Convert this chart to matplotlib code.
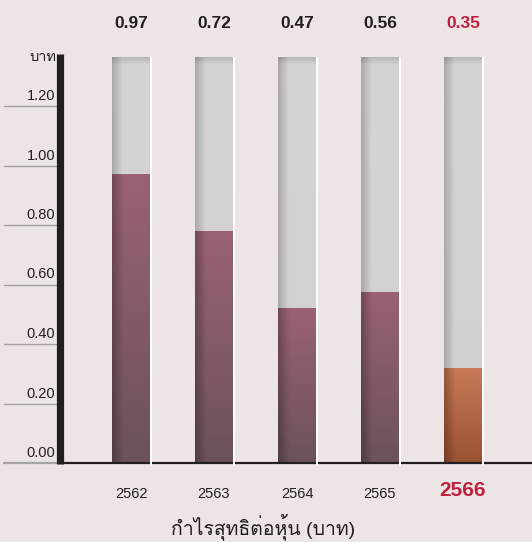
import numpy as np
import matplotlib
matplotlib.use('Agg')
import matplotlib.pyplot as plt
from matplotlib import font_manager
from matplotlib.ft2font import FT2Font
from matplotlib.colors import to_rgb
import matplotlib.transforms as mtransforms

# ข้อมูล
years = ['2562', '2563', '2564', '2565', '2566']
eps_labels = ['0.97', '0.72', '0.47', '0.56', '0.35']
bar_heights = [0.97, 0.78, 0.52, 0.575, 0.32]   # ความสูงแท่งตามภาพ
bg_height = 1.365
yticks = [0.0, 0.2, 0.4, 0.6, 0.8, 1.0, 1.2]

BG = '#ede4e6'
DARK = '#231f20'
RED = '#c0203f'


def find_thai_font():
    for f in font_manager.fontManager.ttflist:
        try:
            cmap = FT2Font(f.fname).get_charmap()
        except Exception:
            continue
        if ord('ก') in cmap and ord('ุ') in cmap:
            return f.name
    return None


thai = find_thai_font()
families = ['Liberation Sans', 'DejaVu Sans']
if thai:
    families = ['Liberation Sans', thai, 'DejaVu Sans']
plt.rcParams['font.family'] = families

W, H = 532, 542
fig = plt.figure(figsize=(W / 100, H / 100), dpi=100, facecolor=BG)
base_px = 463
top_px = 40
px_per_unit = 297.5
ax = fig.add_axes([60 / W, (H - base_px) / H, 472 / W, (base_px - top_px) / H])
ax.set_facecolor(BG)
step = 83.0
ax.set_xlim(-71 / step, (472 - 71) / step)
ax.set_ylim(0, (base_px - top_px) / px_per_unit)
for s in ax.spines.values():
    s.set_visible(False)
ax.set_xticks([])
ax.set_yticks([])

x = np.arange(len(years))
width = 38 / step


def gradient_fill(patch, top_col, bot_col, shade_left=0.72, shade_w=0.35, top_shade=0.0):
    ny, nx = 200, 60
    t = np.linspace(1, 0, ny)[:, None]           # 1 ด้านบน, 0 ด้านล่าง
    top = np.array(to_rgb(top_col))
    bot = np.array(to_rgb(bot_col))
    img = (bot + (top - bot) * t[..., None]) * np.ones((ny, nx, 3))
    u = np.linspace(0, 1, nx)
    sh = np.clip(shade_left + (1 - shade_left) * u / shade_w, 0, 1)
    img = img * sh[None, :, None]
    bb = patch.get_bbox()
    if top_shade:
        hpx = bb.height * px_per_unit
        rows = np.arange(ny) / ny * hpx
        ts = np.clip(1 - top_shade * (1 - rows / 8), 1 - top_shade, 1)
        img = img * ts[:, None, None]
    im = ax.imshow(np.clip(img, 0, 1), extent=[bb.x0, bb.x1, bb.y0, bb.y1],
                   aspect='auto', origin='upper', zorder=patch.get_zorder() + 0.1,
                   interpolation='bilinear')
    im.set_clip_path(patch)


bg_bars = ax.bar(x, [bg_height] * len(x), width=width, color='#d6d4d4', zorder=2)
for p in bg_bars:
    gradient_fill(p, '#d5d3d3', '#d2d0d0', shade_left=0.80, shade_w=0.28, top_shade=0.14)

cols = [('#9a6274', '#6b5259')] * 4 + [('#c97a58', '#9a5232')]
val_bars = ax.bar(x, bar_heights, width=width, color='#7a5a62', zorder=3)
for p, (c1, c2) in zip(val_bars, cols):
    gradient_fill(p, c1, c2, shade_left=0.74, shade_w=0.3)

# เส้นฐานและแกนซ้าย
ax.axhline(0, color=DARK, lw=1.6, zorder=4, clip_on=False)
ax.plot([-71 / step, -71 / step], [-0.005, 1.375], color=DARK, lw=5.2,
        solid_capstyle='butt', zorder=5, clip_on=False)

# เส้นแบ่งสีขาวด้านขวาของแท่ง
for xi in x:
    ax.plot([xi + width / 2 + 0.012] * 2, [-0.01, bg_height], color='white',
            lw=1.4, zorder=6, clip_on=False, solid_capstyle='butt')

# ป้ายแกน y
trans = mtransforms.blended_transform_factory(fig.transFigure, ax.transData)
for v in yticks:
    ax.plot([4 / W, 57 / W], [v, v], color='#a5a3a4', lw=1.6 if v == 0 else 1.0,
            transform=trans, clip_on=False, zorder=1)
    ax.text(55 / W, v + 3 / px_per_unit, f'{v:.2f}', transform=trans, ha='right',
            va='bottom', fontsize=10.5, color=DARK)
ax.text(56 / W, 1.365, 'บาท', transform=trans, ha='right', va='center',
        fontsize=10.5, color=DARK)

# ค่าด้านบน
for xi, lab, col in zip(x, eps_labels, [DARK] * 4 + [RED]):
    ax.annotate(lab, (xi, H - 23), xycoords=('data', 'figure pixels'),
                ha='center', va='center', fontsize=12.5, fontweight='bold', color=col)

# ปี
for xi, yr in zip(x, years):
    if yr == '2566':
        ax.annotate(yr, (xi, H - 491), xycoords=('data', 'figure pixels'),
                    ha='center', va='center', fontsize=15, fontweight='bold', color=RED)
    else:
        ax.annotate(yr, (xi, H - 494), xycoords=('data', 'figure pixels'),
                    ha='center', va='center', fontsize=10.5, color=DARK)

fig.text(263 / W, 15 / H, 'กำไรสุทธิต่อหุ้น (บาท)', ha='center', va='center',
         fontsize=14, color=DARK)

fig.savefig('out.png', dpi=100, facecolor=BG)
